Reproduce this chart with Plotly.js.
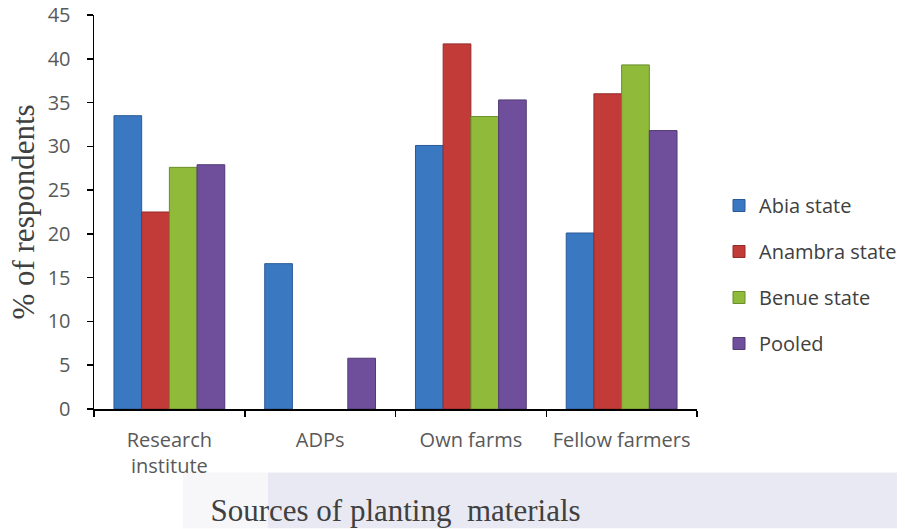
<!DOCTYPE html>
<html>
<head>
<meta charset="utf-8">
<script src="https://cdn.plot.ly/plotly-3.0.1.min.js"></script>
<style>html,body{margin:0;padding:0;background:#fff;}#chart{width:905px;height:529px;}</style>
</head>
<body>
<div id="chart"></div>
<script>
const categories = ["Research<br>institute", "ADPs", "Own farms", "Fellow farmers"];
const seriesNames = ["Abia state", "Anambra state", "Benue state", "Pooled"];
const abia = [33.5, 16.6, 30.1, 20.1];
const anambra = [22.5, 0, 41.7, 36.0];
const benue = [27.6, 0, 33.4, 39.3];
const pooled = [27.9, 5.8, 35.3, 31.8];
const yTicks = [0, 5, 10, 15, 20, 25, 30, 35, 40, 45];

const colors = ["#3b78c2", "#c23b38", "#8fba3a", "#6f4f9b"];
const lineColors = ["#2a5a96", "#922b29", "#6b8d2a", "#523a75"];
const values = [abia, anambra, benue, pooled];

const traces = values.map((v, i) => ({
  type: "bar",
  name: seriesNames[i],
  x: categories,
  y: v,
  legendgroup: "g" + i,
  marker: {color: colors[i], line: {color: lineColors[i], width: v.map(d => d > 0 ? 1 : 0)}},
  hoverinfo: "skip"
}));

const layout = {
  width: 905, height: 529,
  margin: {l: 94, r: 208, t: 15, b: 120},
  paper_bgcolor: "#ffffff",
  plot_bgcolor: "rgba(0,0,0,0)",
  barmode: "group",
  bargap: 0.265,
  bargroupgap: 0,
  font: {family: "Open Sans, sans-serif", color: "#595959", size: 20},
  xaxis: {
    type: "category",
    automargin: false,
    showline: true, linecolor: "#000", linewidth: 1.5,
    ticks: "outside", tickson: "boundaries", ticklen: 6, tickcolor: "#000", tickwidth: 1.5,
    tickangle: 0,
    tickfont: {family: "Open Sans, sans-serif", size: 20, color: "#595959"},
    ticklabelstandoff: 12,
    showgrid: false, zeroline: false,
    title: {text: "Sources of planting  materials", font: {family: "Liberation Serif, Times New Roman, serif", size: 31, color: "#404040"}, standoff: 22}
  },
  yaxis: {
    range: [0, 45],
    automargin: false,
    tickmode: "array", tickvals: yTicks, ticktext: yTicks.map(String),
    showline: true, linecolor: "#000", linewidth: 1.5,
    ticks: "outside", ticklen: 6, tickcolor: "#000", tickwidth: 1.5,
    tickfont: {family: "Open Sans, sans-serif", size: 20, color: "#595959"},
    ticklabelstandoff: 12,
    showgrid: false, zeroline: false,
    title: {text: "% of respondents", font: {family: "Liberation Serif, Times New Roman, serif", size: 31, color: "#404040"}, standoff: 4}
  },
  legend: {
    xref: "container", yref: "container",
    x: 902 / 905, xanchor: "right", y: 1 - 274.5 / 529, yanchor: "middle",
    font: {family: "Open Sans, sans-serif", size: 20, color: "#404040"},
    tracegroupgap: 17,
    bgcolor: "rgba(0,0,0,0)"
  },
  shapes: [
    {type: "rect", xref: "paper", yref: "paper", x0: (183-94)/603, x1: (268-94)/603, y0: (409.5-529)/394.5, y1: (409.5-473)/394.5, fillcolor: "#f7f7fa", line: {width: 0}, layer: "below"},
    {type: "rect", xref: "paper", yref: "paper", x0: (268-94)/603, x1: (897-94)/603, y0: (409.5-529)/394.5, y1: (409.5-473)/394.5, fillcolor: "#e9e9f3", line: {width: 0}, layer: "below"}
  ],
  showlegend: true
};

Plotly.newPlot("chart", traces, layout, {displayModeBar: false, staticPlot: true});
</script>
</body>
</html>
